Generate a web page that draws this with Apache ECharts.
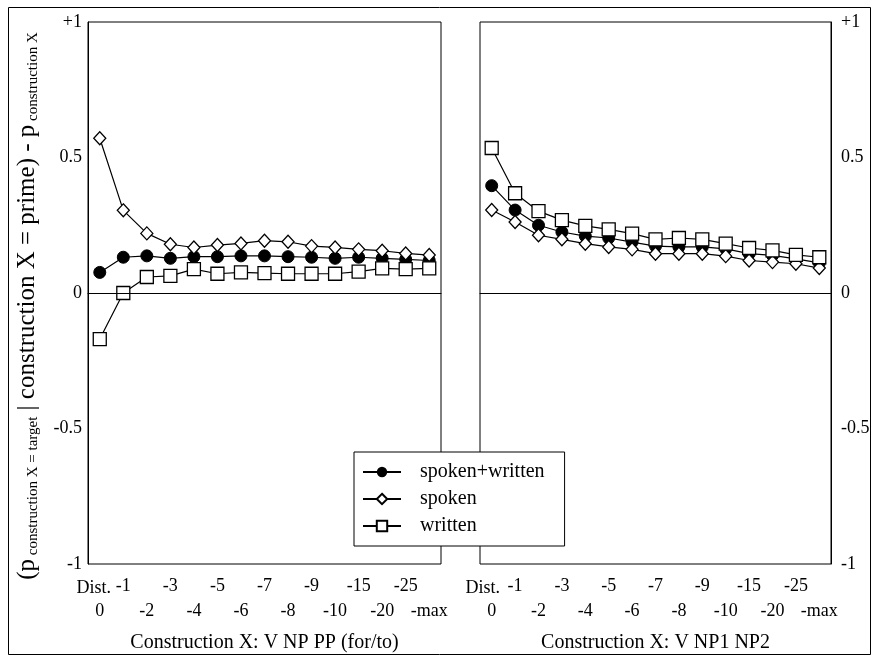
<!DOCTYPE html>
<html lang="en">
<head>
	<meta charset="UTF-8">
	<title>Priming by distance</title>
</head>
<body style="margin:0;background:#fff;">
<div id="chart" style="width:873px;height:658px;"></div>
<script src="https://cdn.jsdelivr.net/npm/echarts@6/dist/echarts.min.js"></script>
<script>
// distance categories (x axis)
var distances = ['0', '-1', '-2', '-3', '-4', '-5', '-6', '-7', '-8', '-9', '-10', '-15', '-20', '-25', '-max'];
var yTicks = [-1, -0.5, 0, 0.5, 1];

// V NP PP (for/to)
var ppBoth    = [0.076, 0.132, 0.137, 0.128, 0.134, 0.134, 0.137, 0.137, 0.134, 0.132, 0.128, 0.132, 0.128, 0.124, 0.120];
var ppSpoken  = [0.571, 0.305, 0.220, 0.180, 0.168, 0.177, 0.183, 0.193, 0.189, 0.173, 0.168, 0.161, 0.156, 0.146, 0.140];
var ppWritten = [-0.170, 0.000, 0.059, 0.063, 0.088, 0.071, 0.076, 0.073, 0.071, 0.071, 0.071, 0.079, 0.091, 0.088, 0.091];

// V NP1 NP2
var npBoth    = [0.396, 0.306, 0.250, 0.225, 0.210, 0.203, 0.188, 0.173, 0.170, 0.170, 0.163, 0.145, 0.139, 0.126, 0.111];
var npSpoken  = [0.306, 0.262, 0.213, 0.198, 0.182, 0.170, 0.161, 0.145, 0.145, 0.145, 0.136, 0.120, 0.114, 0.108, 0.092];
var npWritten = [0.535, 0.368, 0.302, 0.269, 0.248, 0.235, 0.219, 0.198, 0.203, 0.198, 0.182, 0.166, 0.157, 0.141, 0.132];

var FONT = '"Liberation Serif", "DejaVu Serif", serif';

function tickText(v) {
	if (v === 1) return '+1';
	return String(v);
}

function xAxisFor(idx, title) {
	return {
		type: 'category', gridIndex: idx, data: distances, boundaryGap: true,
		axisLine: { lineStyle: { color: '#000', width: 1 } },
		axisTick: { show: false },
		axisLabel: {
			interval: 0, margin: 10, color: '#000', fontFamily: FONT, fontSize: 18, lineHeight: 25,
			formatter: function (v, i) { return i % 2 ? v : '\n' + v; }
		},
		name: title, nameLocation: 'middle', nameGap: 69,
		nameTextStyle: { color: '#000', fontFamily: FONT, fontSize: 20 }
	};
}

function yAxisFor(idx, pos, margin) {
	return {
		type: 'value', gridIndex: idx, position: pos, min: -1, max: 1, interval: 0.5,
		splitLine: { show: false },
		axisLine: { show: true, lineStyle: { color: '#000', width: 1 } },
		axisTick: { show: false },
		axisLabel: { margin: margin, color: '#000', fontFamily: FONT, fontSize: 18, formatter: tickText }
	};
}

var zeroLine = {
	silent: true, symbol: 'none', label: { show: false },
	lineStyle: { color: '#000', width: 1, type: 'solid' },
	data: [{ yAxis: 0 }]
};

function mk(name, data, idx, kind, withZero) {
	var s = {
		name: name, type: 'line', xAxisIndex: idx, yAxisIndex: idx, data: data,
		symbolSize: 12,
		lineStyle: { color: '#000', width: 1.2 },
		itemStyle: { color: '#fff', borderColor: '#000', borderWidth: 1.3 },
		animation: false
	};
	if (kind === 'both') { s.symbol = 'circle'; s.itemStyle = { color: '#000', borderColor: '#000' }; }
	if (kind === 'spoken') { s.symbol = 'diamond'; s.symbolSize = [12, 13]; }
	if (kind === 'written') { s.symbol = 'rect'; s.symbolSize = 13; }
	if (withZero) s.markLine = zeroLine;
	return s;
}

var myChart = echarts.init(document.getElementById('chart'));

var option = {
	backgroundColor: '#fff',
	animation: false,
	grid: [
		{ left: 88, top: 22, width: 353, height: 544, show: true, borderColor: '#000', borderWidth: 1 },
		{ left: 480, top: 22, width: 351, height: 544, show: true, borderColor: '#000', borderWidth: 1 }
	],
	xAxis: [
		xAxisFor(0, 'Construction X: V NP PP (for/to)'),
		xAxisFor(1, 'Construction X: V NP1 NP2')
	],
	yAxis: [
		yAxisFor(0, 'left', 6),
		yAxisFor(1, 'right', 10)
	],
	legend: {
		orient: 'vertical', left: 354, top: 452,
		data: ['spoken+written', 'spoken', 'written'],
		backgroundColor: '#fff', borderColor: '#000', borderWidth: 1,
		padding: [10, 20, 10, 8],
		itemWidth: 38, itemHeight: 13, itemGap: 7,
		textStyle: { color: '#000', fontFamily: FONT, fontSize: 20, padding: [0, 0, 0, 14] },
		z: 10
	},
	graphic: [
		{ type: 'rect', shape: { x: 8.5, y: 7.5, width: 862, height: 647 }, style: { fill: 'none', stroke: '#000', lineWidth: 1 }, silent: true },
		{ type: 'text', x: 111, y: 588, style: { text: 'Dist.', fill: '#000', font: '18px ' + FONT, align: 'right', verticalAlign: 'middle' } },
		{ type: 'text', x: 500, y: 588, style: { text: 'Dist.', fill: '#000', font: '18px ' + FONT, align: 'right', verticalAlign: 'middle' } },
		{
			type: 'text', x: 27, y: 306, rotation: Math.PI / 2,
			style: {
				text: '{m|(p}{s| construction X = target}{m| | construction X = prime) - p}{s| construction X}',
				align: 'center', verticalAlign: 'middle', fill: '#000',
				rich: {
					m: { fontFamily: FONT, fontSize: 25, lineHeight: 28, fill: '#000' },
					s: { fontFamily: FONT, fontSize: 15, lineHeight: 15, verticalAlign: 'bottom', padding: [11, 0, 0, 0], fill: '#000' }
				}
			}
		}
	],
	series: [
		mk('spoken+written', ppBoth, 0, 'both', true),
		mk('spoken', ppSpoken, 0, 'spoken', false),
		mk('written', ppWritten, 0, 'written', false),
		mk('spoken+written', npBoth, 1, 'both', true),
		mk('spoken', npSpoken, 1, 'spoken', false),
		mk('written', npWritten, 1, 'written', false)
	]
};
myChart.setOption(option);
</script>
</body>
</html>
